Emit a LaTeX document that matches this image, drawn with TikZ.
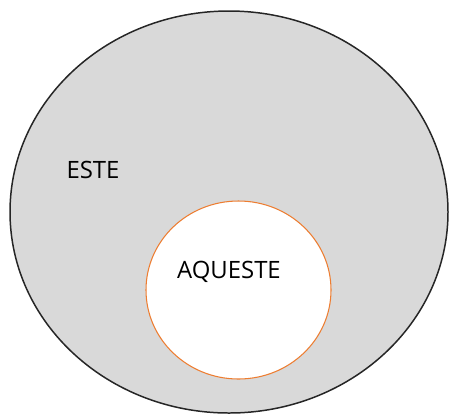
\documentclass[tikz,border=0pt]{standalone}
\usepackage{fontspec}
\setmainfont{Open Sans}
\definecolor{setgray}{RGB}{217,217,217}
\definecolor{setorange}{RGB}{237,125,49}
\begin{document}
\begin{tikzpicture}[x=0.02cm,y=-0.02cm,
        outer set/.style={fill=setgray, draw=black!85, line width=0.85pt},
        inner set/.style={fill=white, draw=setorange, line width=0.6pt},
        setlabel/.style={font=\fontsize{13.6}{16}\selectfont, inner sep=0pt}]
    \useasboundingbox (0,0) rectangle (449,417);

    % The larger set and the one inside it.
    \draw[outer set] (229,212) ellipse[x radius=219, y radius=201];
    \draw[inner set] (238.5,290) ellipse[x radius=92.5, y radius=89];

    \node[setlabel] (este) at (93,170) {ESTE};
    \node[setlabel] (aqueste) at (229,271.5) {AQUESTE};
\end{tikzpicture}
\end{document}
